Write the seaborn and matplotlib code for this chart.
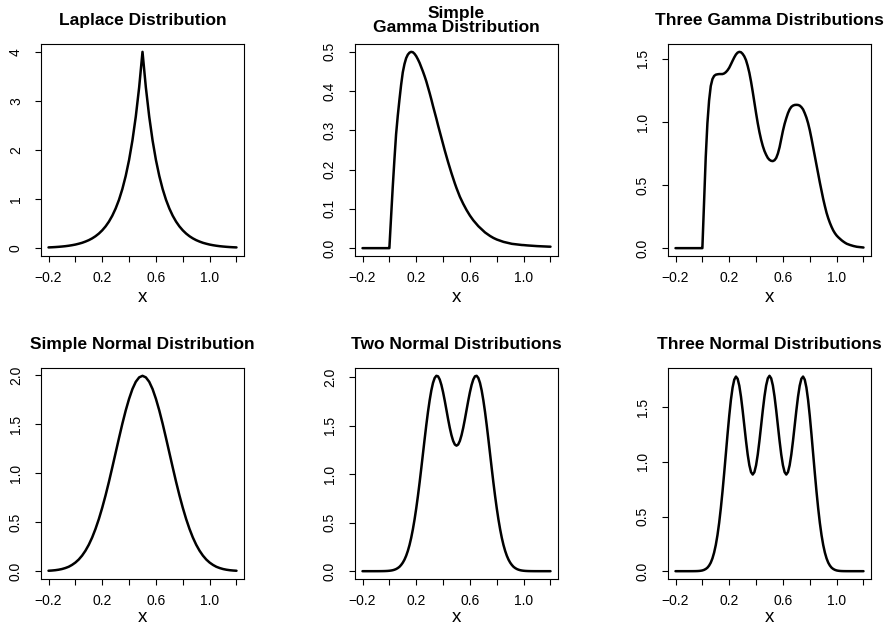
import numpy as np
import pandas as pd
import matplotlib
matplotlib.use("Agg")
import matplotlib.pyplot as plt
import seaborn as sns

# grille des abscisses (pas 0.025) pour Laplace et la normale simple
x_grid = [-0.2, -0.175, -0.15, -0.125, -0.1, -0.075, -0.05, -0.025, 0.0,
          0.025, 0.05, 0.075, 0.1, 0.125, 0.15, 0.175, 0.2, 0.225, 0.25,
          0.275, 0.3, 0.325, 0.35, 0.375, 0.4, 0.425, 0.45, 0.475, 0.5,
          0.525, 0.55, 0.575, 0.6, 0.625, 0.65, 0.675, 0.7, 0.725, 0.75,
          0.775, 0.8, 0.825, 0.85, 0.875, 0.9, 0.925, 0.95, 0.975, 1.0,
          1.025, 1.05, 1.075, 1.1, 1.125, 1.15, 1.175, 1.2]

# grille plus fine (pas 0.0125) pour les courbes a plusieurs pics
x_fine = [-0.2, -0.1875, -0.175, -0.1625, -0.15, -0.1375, -0.125, -0.1125,
          -0.1, -0.0875, -0.075, -0.0625, -0.05, -0.0375, -0.025, -0.0125,
          0.0, 0.0125, 0.025, 0.0375, 0.05, 0.0625, 0.075, 0.0875, 0.1,
          0.1125, 0.125, 0.1375, 0.15, 0.1625, 0.175, 0.1875, 0.2, 0.2125,
          0.225, 0.2375, 0.25, 0.2625, 0.275, 0.2875, 0.3, 0.3125, 0.325,
          0.3375, 0.35, 0.3625, 0.375, 0.3875, 0.4, 0.4125, 0.425, 0.4375,
          0.45, 0.4625, 0.475, 0.4875, 0.5, 0.5125, 0.525, 0.5375, 0.55,
          0.5625, 0.575, 0.5875, 0.6, 0.6125, 0.625, 0.6375, 0.65, 0.6625,
          0.675, 0.6875, 0.7, 0.7125, 0.725, 0.7375, 0.75, 0.7625, 0.775,
          0.7875, 0.8, 0.8125, 0.825, 0.8375, 0.85, 0.8625, 0.875, 0.8875,
          0.9, 0.9125, 0.925, 0.9375, 0.95, 0.9625, 0.975, 0.9875, 1.0,
          1.0125, 1.025, 1.0375, 1.05, 1.0625, 1.075, 1.0875, 1.1, 1.1125,
          1.125, 1.1375, 1.15, 1.1625, 1.175, 1.1875, 1.2]

# valeurs
laplace = [0.015, 0.018, 0.022, 0.027, 0.033, 0.040, 0.049, 0.060, 0.073,
           0.090, 0.109, 0.134, 0.163, 0.199, 0.243, 0.297, 0.363, 0.443,
           0.541, 0.661, 0.808, 0.986, 1.205, 1.472, 1.797, 2.195, 2.681,
           3.275, 4.0,
           3.275, 2.681, 2.195, 1.797, 1.472, 1.205, 0.986, 0.808, 0.661,
           0.541, 0.443, 0.363, 0.297, 0.243, 0.199, 0.163, 0.134, 0.109,
           0.090, 0.073, 0.060, 0.049, 0.040, 0.033, 0.027, 0.022, 0.018,
           0.015]

normal_simple = [0.0044, 0.0067, 0.010, 0.015, 0.022, 0.032, 0.045, 0.064,
                 0.088, 0.119, 0.159, 0.209, 0.270, 0.344, 0.432, 0.533,
                 0.648, 0.775, 0.913, 1.060, 1.210, 1.360, 1.506, 1.641,
                 1.760, 1.860, 1.934, 1.979, 1.995,
                 1.979, 1.934, 1.860, 1.760, 1.641, 1.506, 1.360, 1.210,
                 1.060, 0.913, 0.775, 0.648, 0.533, 0.432, 0.344, 0.270,
                 0.209, 0.159, 0.119, 0.088, 0.064, 0.045, 0.032, 0.022,
                 0.015, 0.010, 0.0067, 0.0044]

gamma_simple = [0, 0, 0, 0, 0, 0, 0, 0, 0, 0, 0, 0, 0, 0, 0, 0, 0,
                0.078, 0.155, 0.225, 0.29, 0.337, 0.378, 0.416, 0.448,
                0.469, 0.484, 0.493, 0.498, 0.50, 0.499, 0.495, 0.489,
                0.481, 0.472, 0.461, 0.45, 0.438, 0.425, 0.41, 0.395,
                0.379, 0.362, 0.346, 0.33, 0.313, 0.297, 0.281, 0.265,
                0.249, 0.234, 0.219, 0.205, 0.191, 0.178, 0.165, 0.153,
                0.142, 0.131, 0.122, 0.113, 0.105, 0.097, 0.09, 0.083,
                0.077, 0.071, 0.066, 0.061, 0.056, 0.052, 0.048, 0.044,
                0.040, 0.037, 0.034, 0.031, 0.0285, 0.026, 0.024, 0.022,
                0.0205, 0.019, 0.0175, 0.016, 0.015, 0.014, 0.013, 0.012,
                0.011, 0.0105, 0.010, 0.0095, 0.009, 0.0085, 0.008, 0.0078,
                0.0074, 0.007, 0.0067, 0.0064, 0.0061, 0.0058, 0.0055,
                0.0052, 0.005, 0.0048, 0.0046, 0.0044, 0.0042, 0.004,
                0.0038, 0.0037]

gamma_three = [0, 0, 0, 0, 0, 0, 0, 0, 0, 0, 0, 0, 0, 0, 0, 0, 0,
               0.36, 0.72, 0.99, 1.17, 1.285, 1.34, 1.365, 1.375, 1.378,
               1.38, 1.38, 1.38, 1.385, 1.395, 1.41, 1.43, 1.457, 1.485,
               1.512, 1.535, 1.55, 1.556, 1.553, 1.54, 1.52, 1.49, 1.445,
               1.39, 1.32, 1.24, 1.155, 1.07, 0.99, 0.92, 0.86, 0.81, 0.77,
               0.74, 0.715, 0.70, 0.692, 0.69, 0.697, 0.715, 0.75, 0.80,
               0.865, 0.93, 0.985, 1.03, 1.07, 1.10, 1.12, 1.13, 1.135,
               1.136, 1.135, 1.13, 1.118, 1.10, 1.07, 1.035, 0.99, 0.935,
               0.87, 0.80, 0.73, 0.66, 0.59, 0.52, 0.455, 0.39, 0.333,
               0.28, 0.237, 0.20, 0.168, 0.14, 0.118, 0.10, 0.086, 0.074,
               0.062, 0.052, 0.043, 0.035, 0.03, 0.025, 0.021, 0.017,
               0.014, 0.011, 0.0095, 0.008, 0.0065, 0.005]

normal_two = [0, 0, 0, 0, 0, 0, 0, 0, 0.0001, 0.0001, 0.0002, 0.0004,
              0.0007, 0.0011, 0.0018, 0.0028, 0.0044, 0.0067, 0.010, 0.015,
              0.022, 0.032, 0.045, 0.064, 0.088, 0.119, 0.159, 0.209, 0.270,
              0.344, 0.432, 0.533, 0.648, 0.775, 0.913, 1.060, 1.211, 1.362,
              1.508, 1.644, 1.764, 1.866, 1.944, 1.995, 2.017, 2.012, 1.979,
              1.923, 1.848, 1.760, 1.665, 1.569, 1.480, 1.404, 1.345, 1.308,
              1.296,
              1.308, 1.345, 1.404, 1.480, 1.569, 1.665, 1.760, 1.848, 1.923,
              1.979, 2.012, 2.017, 1.995, 1.944, 1.866, 1.764, 1.644, 1.508,
              1.362, 1.211, 1.060, 0.913, 0.775, 0.648, 0.533, 0.432, 0.344,
              0.270, 0.209, 0.159, 0.119, 0.088, 0.064, 0.045, 0.032, 0.022,
              0.015, 0.010, 0.0067, 0.0044, 0.0028, 0.0018, 0.0011, 0.0007,
              0.0004, 0.0002, 0.0001, 0.0001, 0, 0, 0, 0, 0, 0, 0, 0]

normal_three = [0, 0, 0, 0, 0, 0, 0, 0, 0, 0.00007, 0.00015, 0.0003,
                0.0006, 0.0011, 0.0021, 0.0039, 0.0068, 0.012, 0.020, 0.032,
                0.051, 0.078, 0.117, 0.170, 0.240, 0.330, 0.442, 0.576,
                0.729, 0.898, 1.075, 1.253, 1.420, 1.566, 1.679, 1.752,
                1.780, 1.760, 1.697, 1.597, 1.470, 1.331, 1.192, 1.067,
                0.969, 0.906, 0.884, 0.906, 0.969, 1.067, 1.192, 1.331,
                1.471, 1.598, 1.699, 1.764, 1.787,
                1.764, 1.699, 1.598, 1.471, 1.331, 1.192, 1.067, 0.969,
                0.906, 0.884, 0.906, 0.969, 1.067, 1.192, 1.331, 1.470,
                1.597, 1.697, 1.760, 1.780, 1.752, 1.679, 1.566, 1.420,
                1.253, 1.075, 0.898, 0.729, 0.576, 0.442, 0.330, 0.240,
                0.170, 0.117, 0.078, 0.051, 0.032, 0.020, 0.012, 0.0068,
                0.0039, 0.0021, 0.0011, 0.0006, 0.0003, 0.00015, 0.00007,
                0, 0, 0, 0, 0, 0, 0, 0, 0]

titres = ["Laplace Distribution", "Simple\nGamma Distribution",
          "Three Gamma Distributions", "Simple Normal Distribution",
          "Two Normal Distributions", "Three Normal Distributions"]
abscisses = [x_grid, x_fine, x_fine, x_grid, x_fine, x_fine]
series = [laplace, gamma_simple, gamma_three,
          normal_simple, normal_two, normal_three]
yticks = [[0, 1, 2, 3, 4], [0, 0.1, 0.2, 0.3, 0.4, 0.5], [0, 0.5, 1.0, 1.5],
          [0, 0.5, 1.0, 1.5, 2.0], [0, 0.5, 1.0, 1.5, 2.0], [0, 0.5, 1.0, 1.5]]
ytick_labels = [["0", "1", "2", "3", "4"],
                ["0.0", "0.1", "0.2", "0.3", "0.4", "0.5"],
                ["0.0", "0.5", "1.0", "1.5"],
                ["0.0", "0.5", "1.0", "1.5", "2.0"],
                ["0.0", "0.5", "1.0", "1.5", "2.0"],
                ["0.0", "0.5", "1.0", "1.5"]]
xticks = [-0.2, 0.0, 0.2, 0.4, 0.6, 0.8, 1.0, 1.2]
xtick_labels = ["\u22120.2", "", "0.2", "", "0.6", "", "1.0", ""]

sns.set_style("ticks")
plt.rcParams['font.family'] = ['Liberation Sans', 'DejaVu Sans']
plt.rcParams['text.color'] = 'black'
plt.rcParams['axes.labelcolor'] = 'black'

W, H = 894, 628
fig = plt.figure(figsize=(W / 100, H / 100), dpi=100)

# position des cadres en pixels
lefts = [41, 355, 668]
rows = [(44, 256), (368, 579)]
xlab_offset = [42, 39]
largeur = 203

for i, (titre, x, y) in enumerate(zip(titres, abscisses, series)):
    haut, bas = rows[i // 3]
    gauche = lefts[i % 3]
    ax = fig.add_axes([gauche / W, 1 - bas / H, largeur / W, (bas - haut) / H])
    df = pd.DataFrame({'x': x, 'y': y})
    sns.lineplot(data=df, x='x', y='y', ax=ax, color='black',
                 linewidth=1.8, estimator=None, sort=False)
    ymax = max(y)
    ax.set_ylim(-0.04 * ymax, 1.04 * ymax)
    ax.set_xlim(-0.256, 1.256)
    ax.set_xticks(xticks)
    ax.set_xticklabels(xtick_labels)
    ax.set_yticks(yticks[i])
    ax.set_yticklabels(ytick_labels[i], rotation=90, va='center')
    ax.tick_params(axis='both', direction='out', length=4, width=0.8,
                   colors='black', labelsize=10)
    ax.tick_params(axis='x', pad=6.5)
    ax.tick_params(axis='y', pad=9)
    for sp in ax.spines.values():
        sp.set_color('black')
        sp.set_linewidth(0.8)
    ax.set_ylabel("")
    ax.set_xlabel("x", fontsize=13.5, color='black')
    ax.xaxis.label.set_va('center')
    ax.xaxis.set_label_coords(0.5, -xlab_offset[i // 3] / (bas - haut))
    if "\n" in titre:
        ax.set_title(titre, fontsize=12.5, fontweight='bold', pad=8.4,
                     linespacing=0.95, color='black')
    else:
        ax.set_title(titre, fontsize=12.5, fontweight='bold', pad=13.6,
                     color='black')

fig.savefig("out.png", dpi=100)
